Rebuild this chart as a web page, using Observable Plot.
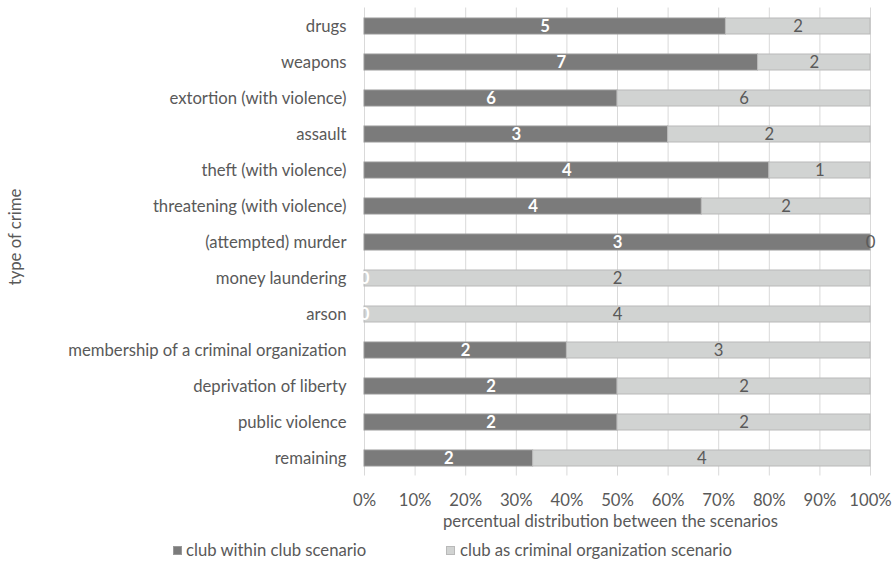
<!DOCTYPE html>
<html><head><meta charset="utf-8">
<script src="https://cdn.jsdelivr.net/npm/d3@7"></script>
<script src="https://cdn.jsdelivr.net/npm/@observablehq/plot@0.6"></script>
<style>
body{margin:0;background:#fff;}
#wrap{position:relative;width:895px;height:561px;font-family:Lato,sans-serif;color:#595959;}
.lg{position:absolute;top:540px;font-size:16.7px;line-height:20px;white-space:nowrap;}
.sw{position:absolute;top:6px;width:9px;height:9px;box-sizing:border-box;}
</style></head><body>
<div id="wrap"></div>
<script>
const crimes = ["drugs","weapons","extortion (with violence)","assault","theft (with violence)","threatening (with violence)","(attempted) murder","money laundering","arson","membership of a criminal organization","deprivation of liberty","public violence","remaining"];
const withinClub = [5,7,6,3,4,4,3,0,0,2,2,2,2];
const criminalOrg = [2,2,6,2,1,2,0,2,4,3,2,2,4];
const seriesNames = ["club within club scenario","club as criminal organization scenario"];
const xTicks = [0,0.1,0.2,0.3,0.4,0.5,0.6,0.7,0.8,0.9,1];
const xTitle = "percentual distribution between the scenarios";
const yTitle = "type of crime";

const fills = ["#7b7b7b","#d1d3d2"];
const edges = ["#999999","#b9b9b9"];
const textCol = "#595959";
const fs = 16.7;

const rows = crimes.flatMap((c,i)=>[
  {crime:c, scenario:seriesNames[0], value:withinClub[i]},
  {crime:c, scenario:seriesNames[1], value:criminalOrg[i]}
]);

const stackOpts = {offset:"normalize", x:"value", y:"crime", z:"scenario", order: seriesNames};

const chart = Plot.plot({
  width: 895, height: 561,
  marginTop: 7.5, marginBottom: 85.5, marginLeft: 364, marginRight: 25,
  style: {fontFamily:"Lato, sans-serif", fontSize:fs+"px", color:textCol, background:"#fff"},
  x: {domain:[0,1], ticks:xTicks, tickFormat:d3.format(".0%"), tickSize:0, tickPadding:18, label:null},
  y: {domain:crimes, paddingInner:0.56, paddingOuter:0.28, tickSize:0, tickPadding:18, label:null},
  color: {domain:[...seriesNames, ...seriesNames.map(s=>s+" edge")], range:[...fills, ...edges]},
  marks: [
    Plot.ruleX(xTicks, {stroke:"#d9d9d9", strokeWidth:1}),
    Plot.barX(rows, Plot.stackX({...stackOpts, fill:"scenario", stroke:d=>d.scenario+" edge", strokeWidth:1})),
    Plot.text(rows, Plot.stackX({...stackOpts, text:d=>d.scenario===seriesNames[0]?String(d.value):null, fill:"white", fontWeight:"bold", fontSize:fs})),
    Plot.text(rows, Plot.stackX({...stackOpts, text:d=>d.scenario===seriesNames[1]?String(d.value):null, fill:textCol, fontSize:fs})),
    Plot.text([xTitle], {text:d=>d, frameAnchor:"bottom", dy:51, dx:-7, fill:textCol, fontSize:fs}),
    Plot.text([yTitle], {text:d=>d, frameAnchor:"left", textAnchor:"middle", dx:-349, dy:-5, rotate:-90, fill:textCol, fontSize:fs})
  ]
});
const wrap = document.getElementById("wrap");
wrap.appendChild(chart);
const sqx = [173, 446], txx = [186, 460];
seriesNames.forEach((s,i)=>{
  const sq = document.createElement("div");
  sq.className = "lg";
  sq.style.left = sqx[i]+"px";
  sq.innerHTML = `<span class="sw" style="background:${fills[i]};border:1px solid ${edges[i]}"></span>`;
  wrap.appendChild(sq);
  const t = document.createElement("div");
  t.className = "lg";
  t.style.left = txx[i]+"px";
  t.textContent = s;
  wrap.appendChild(t);
});
</script>
</body></html>
